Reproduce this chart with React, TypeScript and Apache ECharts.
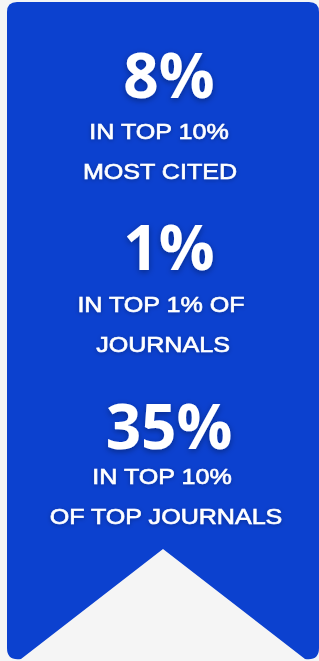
import React, { useEffect, useRef } from "react";
import * as echarts from "echarts";

const statValues = ["8%", "1%", "35%"];
const statLineOne = ["IN TOP 10%", "IN TOP 1% OF", "IN TOP 10%"];
const statLineTwo = ["MOST CITED", "JOURNALS", "OF TOP JOURNALS"];

const W = 319;
const H = 661;
const BLUE = "#0c41cf";
const BG = "#f5f5f5";

const ribbonPath =
  "M17,2 L309,2 Q319,2 319,12 L319,648 Q319,661 305,659 L163,549 L21,659 Q7,661 7,648 L7,12 Q7,2 17,2 Z";

const bigY = [74, 246, 425];
const lineOneY = [132, 305, 477];
const lineTwoY = [172, 345, 517];
const bigX = [169, 169, 169];
const lineOneX = [159, 161, 162];
const lineTwoX = [160, 163, 166];

export default function App() {
  const ref = useRef<HTMLDivElement>(null);
  useEffect(() => {
    document.body.style.margin = "0";
    document.body.style.background = BG;
    echarts.graphic.registerShape(
      "logo",
      echarts.graphic.extendPath(ribbonPath, {}) as any
    );
    const chart = echarts.init(ref.current!, null, { renderer: "svg" });
    const bigShadow = {
      textShadowColor: "rgba(0,0,0,0.35)",
      textShadowBlur: 6,
      textShadowOffsetY: 2,
    };
    const smallShadow = {
      textShadowColor: "rgba(0,0,0,0.3)",
      textShadowBlur: 4,
      textShadowOffsetY: 1,
    };
    const labelFont = "22px 'Liberation Sans'";
    const elements: any[] = [
      {
        type: "logo",
        x: 0,
        y: 0,
        scaleX: 1,
        scaleY: 1,
        style: { fill: BLUE },
      },
    ];
    statValues.forEach((v, i) => {
      elements.push({
        type: "text",
        x: bigX[i],
        y: bigY[i],
        style: {
          text: v,
          fill: "#ffffff",
          font: "bold 62px 'Open Sans'",
          align: "center",
          verticalAlign: "middle",
          ...bigShadow,
        },
      });
      [
        { t: statLineOne[i], x: lineOneX[i], y: lineOneY[i] },
        { t: statLineTwo[i], x: lineTwoX[i], y: lineTwoY[i] },
      ].forEach((ln) => {
        elements.push({
          type: "text",
          x: ln.x,
          y: ln.y,
          scaleX: 1.14,
          style: {
            text: ln.t,
            fill: "#ffffff",
            stroke: "#ffffff",
            lineWidth: 0.6,
            font: labelFont,
            align: "center",
            verticalAlign: "middle",
            ...smallShadow,
          },
        });
      });
    });
    chart.setOption({
      animation: false,
      backgroundColor: BG,
      graphic: { elements },
    });
    return () => chart.dispose();
  }, []);
  return (
    <div
      ref={ref}
      style={{ position: "fixed", left: 0, top: 0, width: W, height: H }}
    />
  );
}
